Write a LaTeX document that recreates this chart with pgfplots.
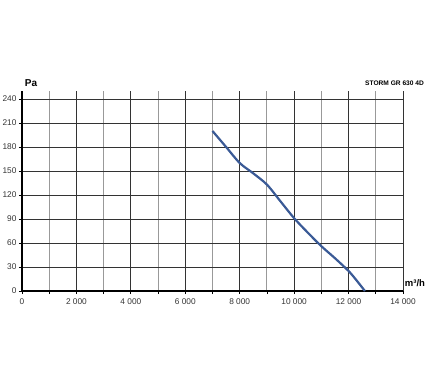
\documentclass[border=0pt]{standalone}
\usepackage{fontspec}
\setmainfont{Liberation Sans}
\usepackage{pgfplots}
\pgfplotsset{compat=1.18}
\definecolor{curve}{RGB}{58,90,150}
\begin{document}
\begin{tikzpicture}[x=1pt,y=1pt]
\path[use as bounding box] (-22,-92) rectangle (404,291);
\begin{axis}[at={(0,0)},anchor=south west,
scale only axis, width=381pt, height=200pt,
xmin=0,xmax=14000,ymin=0,ymax=250,
axis x line*=bottom, axis y line*=left,
axis line style={line width=1.6pt,black},
scaled x ticks=false,
xtick={0,2000,...,14000},
xticklabels={0,2 000,4 000,6 000,8 000,10 000,12 000,14 000},
minor xtick={1000,3000,...,13000},
ytick={0,30,...,240},
grid=both,
major grid style={line width=0.8pt,color=black!80},
minor grid style={line width=0.9pt,color=black!40},
tick align=outside, major tick length=3pt, minor tick length=3pt,
tick style={black,line width=0.8pt},
ticklabel style={font=\fontsize{8.3}{9}\selectfont,text=black!80},
xticklabel style={yshift=-1pt},
yticklabel style={xshift=1pt},
/pgf/number format/assume math mode=true,
]
\addplot[curve, line width=2.2pt, smooth, tension=0.5] coordinates {(7000,200)(7500,180)(8000,160)(8500,147)(9000,133)(9500,112)(10000,91)(10500,73)(11000,56)(11500,41)(12000,25)(12300,13)(12600,0)};
\end{axis}
\node[font=\bfseries\fontsize{10}{11}\selectfont] at (9,208) {Pa};
\node[font=\bfseries\fontsize{6.6}{7}\selectfont,anchor=east,inner sep=0pt] at (402,208) {STORM GR 630 4D};
\node[font=\bfseries\fontsize{9.5}{10}\selectfont] at (393,8) {m³/h};
\end{tikzpicture}
\end{document}
